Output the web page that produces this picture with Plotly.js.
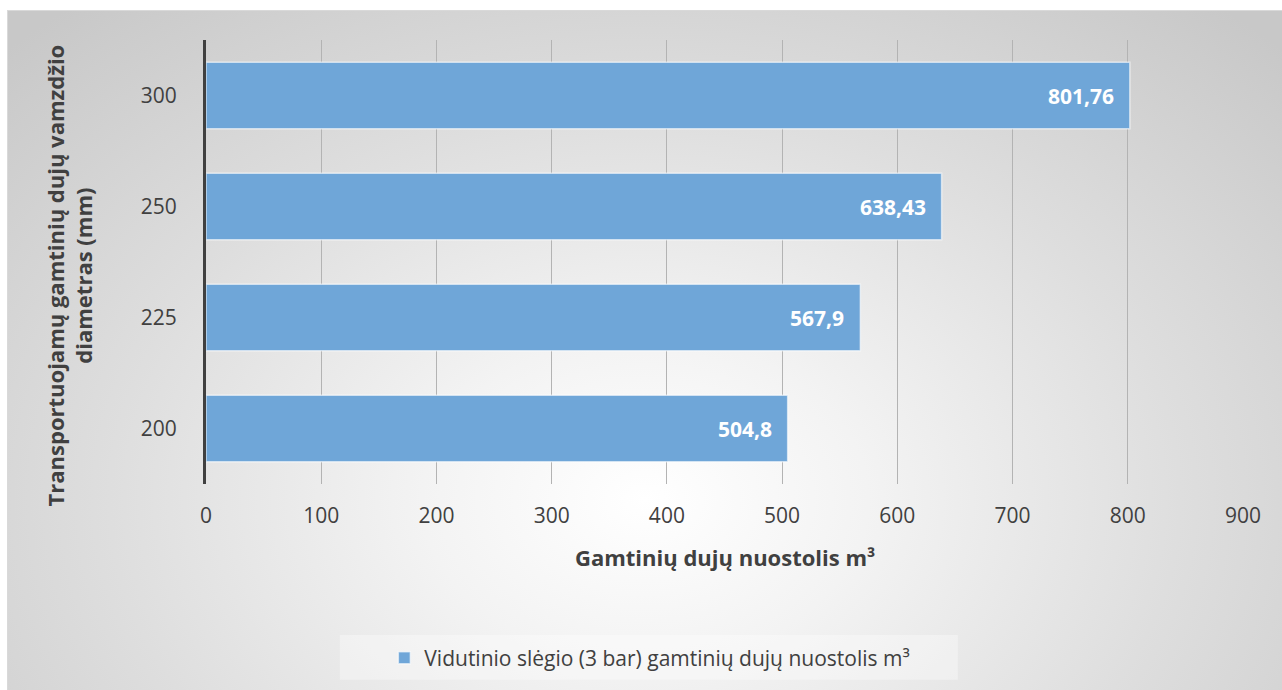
<!DOCTYPE html>
<html>
<head>
<meta charset="utf-8">
<script src="https://cdn.plot.ly/plotly-3.0.1.min.js"></script>
<style>
  html, body { margin:0; padding:0; background:#ffffff; }
  #frame {
    position:absolute; left:7px; top:10px; width:1275px; height:680px;
    box-sizing:border-box; border:1px solid #d9d9d9; border-right:none; border-bottom:none;
    background: radial-gradient(ellipse 70% 95% at 50% 72%, #ffffff 0%, #f3f3f3 25%, #dedede 60%, #c8c8c8 100%);
  }
  #chart { position:absolute; left:0; top:0; width:1282px; height:690px; }
</style>
</head>
<body>
<div id="frame"></div>
<div id="chart"></div>
<script>
const diameters = ["200", "225", "250", "300"];
const losses = [504.8, 567.9, 638.43, 801.76];
const seriesName = "Vidutinio slėgio (3 bar) gamtinių dujų nuostolis m³";
const xTitle = "Gamtinių dujų nuostolis m³";
const yTitle = "Transportuojamų gamtinių dujų vamzdžio<br>diametras (mm)";
const xTicks = [0, 100, 200, 300, 400, 500, 600, 700, 800, 900];

const labels = losses.map(v => String(v).replace('.', ','));
const font = "'Open Sans', sans-serif";

const trace = {
  type: 'bar',
  orientation: 'h',
  y: diameters,
  x: losses,
  name: seriesName,
  marker: { color: '#6fa6d8', line: { color: 'rgba(255,255,255,0.6)', width: 1.5 } },
  hoverinfo: 'skip'
};

// category axis: annotation y uses the category index
const labelAnnotations = losses.map((v, i) => ({
  x: v, y: i, xref: 'x', yref: 'y',
  text: labels[i], showarrow: false, xanchor: 'right', yanchor: 'middle', xshift: -14,
  font: { family: font, size: 21, color: '#ffffff', weight: 'bold' }
}));

const layout = {
  width: 1282, height: 690,
  paper_bgcolor: 'rgba(0,0,0,0)',
  plot_bgcolor: 'rgba(0,0,0,0)',
  margin: { l: 206, r: 39, t: 40, b: 206 },
  bargap: 0.4,
  font: { family: font, color: '#404040' },
  xaxis: {
    range: [0, 900],
    tickvals: xTicks,
    ticktext: xTicks.map(String),
    showgrid: true, gridcolor: '#b3b3b3', gridwidth: 1,
    zeroline: false, showline: false,
    ticks: '', ticklen: 0,
    ticklabelstandoff: 17,
    tickfont: { family: font, size: 21, color: '#404040' },
    fixedrange: true
  },
  yaxis: {
    type: 'category',
    categoryorder: 'array', categoryarray: diameters,
    range: [-0.5, diameters.length - 0.5],
    showline: true, linecolor: '#404040', linewidth: 3,
    showgrid: false, zeroline: false, ticks: '',
    ticklabelstandoff: 22,
    tickfont: { family: font, size: 21, color: '#404040' },
    fixedrange: true
  },
  showlegend: true,
  legend: {
    orientation: 'h', x: 0.428, xanchor: 'center', y: -0.392, yanchor: 'middle',
    bgcolor: 'rgba(0,0,0,0)',
    font: { family: font, size: 21, color: '#404040' },
    itemwidth: 30
  },
  shapes: [
    { type: 'rect', xref: 'paper', yref: 'paper', x0: 0.129, x1: 0.725, y0: -0.340, y1: -0.441,
      fillcolor: 'rgba(255,255,255,0.35)', line: { width: 0 }, layer: 'below' }
  ],
  annotations: labelAnnotations.concat([
    { text: xTitle, xref: 'paper', yref: 'paper', x: 0.5, y: -0.164, xanchor: 'center', yanchor: 'middle',
      showarrow: false, font: { family: font, size: 22, color: '#404040', weight: 'bold' } },
    { text: yTitle, xref: 'paper', yref: 'paper', x: -0.132, y: 0.47, xanchor: 'center', yanchor: 'middle',
      textangle: -90, showarrow: false, align: 'center',
      font: { family: font, size: 22, color: '#404040', weight: 'bold' } }
  ])
};

Plotly.newPlot('chart', [trace], layout, { displayModeBar: false, staticPlot: true });
</script>
</body>
</html>
